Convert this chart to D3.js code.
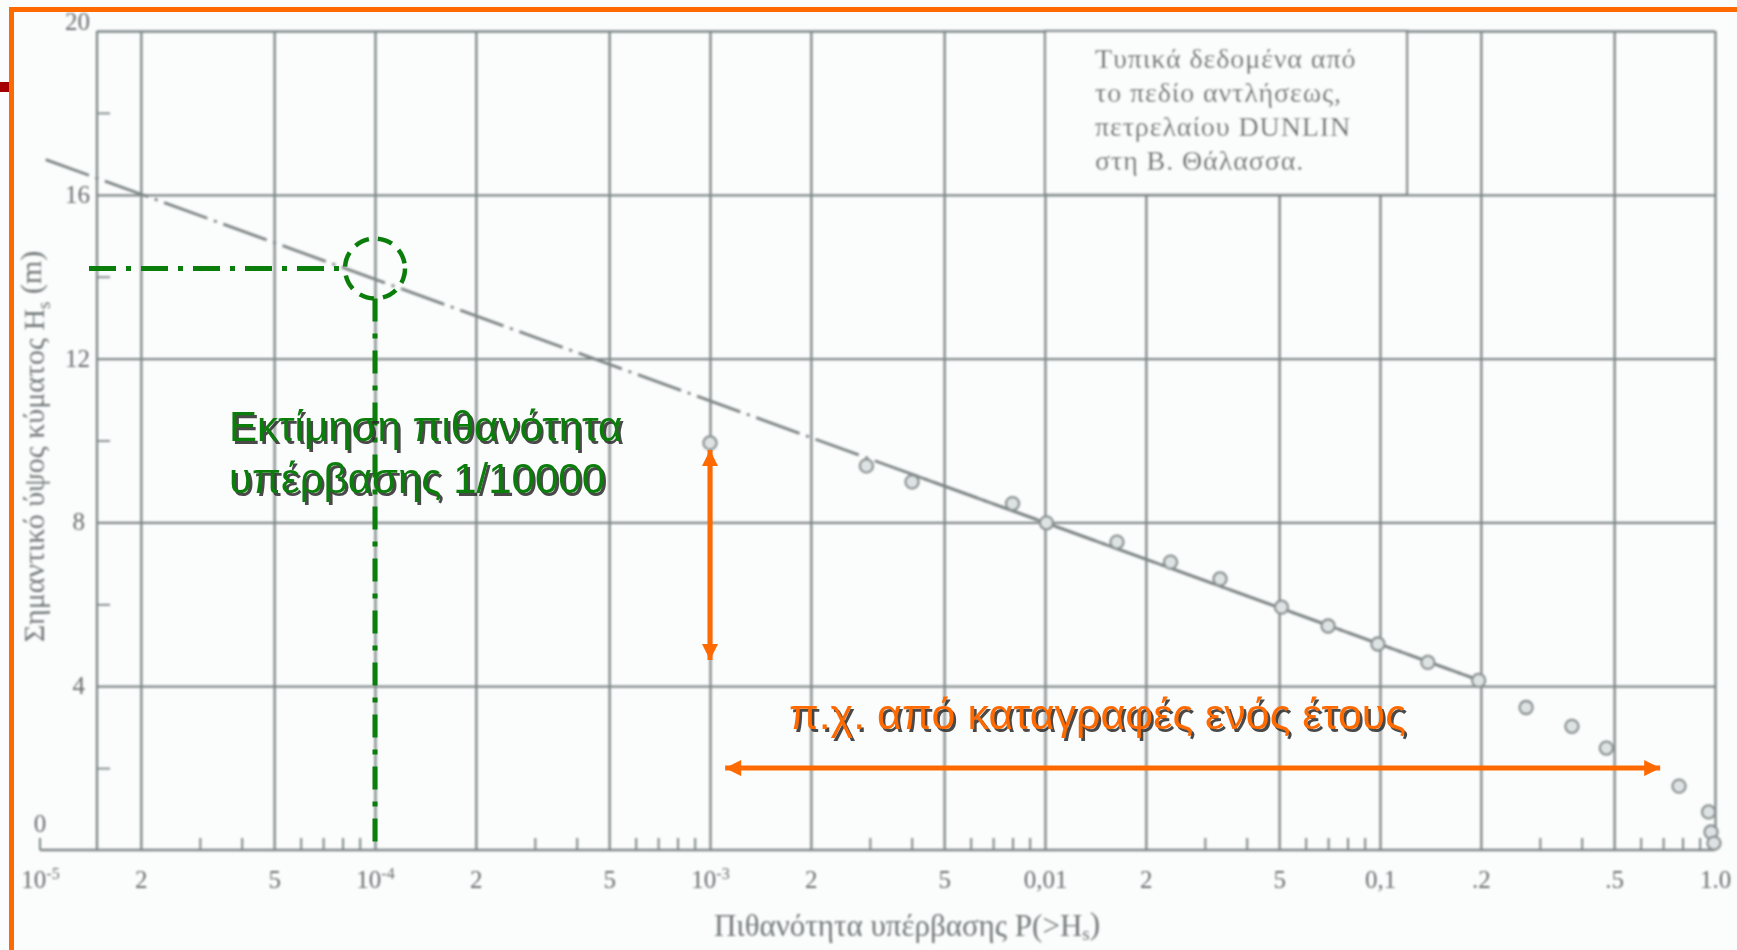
<!DOCTYPE html>
<html>
<head>
<meta charset="utf-8">
<script src="https://cdn.jsdelivr.net/npm/d3@7"></script>
<style>
  html, body { margin: 0; padding: 0; background: #fbfcfc; }
  svg { display: block; }
</style>
</head>
<body>
<svg id="chart" width="1737" height="950"></svg>
<script>
// Exceedance probability of significant wave height, DUNLIN field (North Sea)
const obsP = [1.0e-3, 2.93e-3, 4.01e-3, 8.0e-3, 0.0101, 0.0164, 0.0237, 0.0333, 0.0508, 0.070,
              0.0986, 0.139, 0.197, 0.273, 0.374, 0.474, 0.781, 0.957, 0.973, 0.993];
const obsH = [9.94, 9.38, 8.99, 8.46, 7.99, 7.52, 7.03, 6.62, 5.93, 5.47,
              5.03, 4.58, 4.14, 3.48, 3.02, 2.49, 1.56, 0.93, 0.44, 0.17];

// fitted straight line on the probability paper
const fitP = [1.04e-5, 0.2];
const fitH = [16.86, 4.13];

// 1/10000 estimate
const estP = 1e-4;
const estH = 14.2;

// one-year record span
const spanVertP = 1e-3, spanVertH = [9.77, 4.64];
const spanHorizH = 2.0, spanHorizP = [1.11e-3, 0.686];

const gridP = [2e-5, 5e-5, 1e-4, 2e-4, 5e-4, 1e-3, 2e-3, 5e-3, 0.01, 0.02, 0.05, 0.1, 0.2, 0.5, 1];
const minorP = [];
[1e-5, 1e-4, 1e-3, 1e-2, 1e-1].forEach(d => [3, 4, 6, 7, 8, 9].forEach(m => minorP.push(d * m)));
const labelP = [1e-5, 2e-5, 5e-5, 1e-4, 2e-4, 5e-4, 1e-3, 2e-3, 5e-3, 0.01, 0.02, 0.05, 0.1, 0.2, 0.5, 1];
const labelText = ["10|-5", "2", "5", "10|-4", "2", "5", "10|-3", "2", "5", "0,01", "2", "5", "0,1", ".2", ".5", "1.0"];
const gridH = [4, 8, 12, 16, 20];
const minorH = [2, 6, 10, 14, 18];
const labelH = [0, 4, 8, 12, 16, 20];

const noteLines = ["Τυπικά δεδομένα από", "το πεδίο αντλήσεως,", "πετρελαίου DUNLIN", "στη Β. Θάλασσα."];

const svg = d3.select("#chart");
const W = 1737, H = 950;

const x = d3.scaleLog().domain([1e-5, 1]).range([40, 1715]);
const y = d3.scaleLinear().domain([0, 20]).range([850, 31]);
const frameLeft = x(1e-5) + 57;

const defs = svg.append("defs");
defs.append("filter").attr("id", "soft").attr("x", "-5%").attr("y", "-5%").attr("width", "110%").attr("height", "110%")
  .append("feGaussianBlur").attr("stdDeviation", 0.9);
defs.append("clipPath").attr("id", "solidPart")
  .append("rect").attr("x", x(4e-3)).attr("y", 0).attr("width", W).attr("height", H);

function arrowMarker(id, color) {
  defs.append("marker").attr("id", id)
    .attr("viewBox", "0 0 10 10").attr("refX", 10).attr("refY", 5)
    .attr("markerUnits", "userSpaceOnUse").attr("markerWidth", 17).attr("markerHeight", 16)
    .attr("orient", "auto-start-reverse")
    .append("path").attr("d", "M0,0 L10,5 L0,10 Z").attr("fill", color);
}
arrowMarker("arrOrange", "#ff6a00");

svg.append("rect").attr("width", W).attr("height", H).attr("fill", "#fbfcfc");

const scan = svg.append("g").attr("filter", "url(#soft)");
const gridColor = "#7f8787";
const inkColor = "#6a6f6f";
const serif = "'Liberation Serif', 'DejaVu Serif', serif";

// horizontal grid lines
scan.append("g")
  .call(d3.axisLeft(y).tickValues(gridH).tickSize(-(x(1) - frameLeft)).tickFormat(""))
  .attr("transform", `translate(${frameLeft},0)`)
  .call(g => g.select(".domain").remove())
  .call(g => g.selectAll("line").attr("stroke", gridColor).attr("stroke-width", 2.3));

// vertical grid lines
scan.append("g").attr("transform", `translate(0,${y(0)})`)
  .call(d3.axisBottom(x).tickValues(gridP).tickSize(-(y(0) - y(20))).tickFormat(""))
  .call(g => g.select(".domain").remove())
  .call(g => g.selectAll("line").attr("stroke", gridColor).attr("stroke-width", 2.3));

// minor probability ticks
scan.append("g").attr("transform", `translate(0,${y(0)})`)
  .call(d3.axisBottom(x).tickValues(minorP).tickSize(-12).tickFormat(""))
  .call(g => g.select(".domain").remove())
  .call(g => g.selectAll("line").attr("stroke", gridColor).attr("stroke-width", 2));

// baseline, frame edge and origin tick
scan.append("line").attr("x1", x(1e-5)).attr("x2", x(1)).attr("y1", y(0)).attr("y2", y(0))
  .attr("stroke", gridColor).attr("stroke-width", 2.5);
scan.append("line").attr("x1", frameLeft).attr("x2", frameLeft).attr("y1", y(20)).attr("y2", y(0))
  .attr("stroke", gridColor).attr("stroke-width", 2.3);
scan.append("line").attr("x1", x(1e-5)).attr("x2", x(1e-5)).attr("y1", y(0)).attr("y2", y(0) - 12)
  .attr("stroke", gridColor).attr("stroke-width", 2);

// minor height ticks on the frame edge
scan.append("g").attr("transform", `translate(${frameLeft},0)`)
  .call(d3.axisRight(y).tickValues(minorH).tickSize(13).tickFormat(""))
  .call(g => g.select(".domain").remove())
  .call(g => g.selectAll("line").attr("stroke", gridColor).attr("stroke-width", 1.8));

// note box in the upper grid
const boxX0 = x(0.01), boxX1 = x(0.1) + 27;
scan.append("rect").attr("x", boxX0).attr("y", y(20)).attr("width", boxX1 - boxX0).attr("height", y(16) - y(20))
  .attr("fill", "#fbfcfc").attr("stroke", gridColor).attr("stroke-width", 2.3);
scan.append("text")
  .attr("font-family", serif).attr("font-size", 28).attr("letter-spacing", 0.9)
  .attr("fill", "#666b6b")
  .selectAll("tspan").data(noteLines).join("tspan")
  .attr("x", boxX0 + 50).attr("y", (d, i) => y(20) + 37 + i * 34)
  .text(d => d);

// probability labels
const xLab = scan.append("g").attr("transform", `translate(0,${y(0)})`)
  .call(d3.axisBottom(x).tickValues(labelP).tickSize(0).tickPadding(20).tickFormat((d, i) => labelText[i]))
  .call(g => g.select(".domain").remove());
xLab.selectAll("text")
  .attr("font-family", serif).attr("font-size", 25)
  .attr("fill", inkColor)
  .each(function () {
    const t = d3.select(this);
    const parts = t.text().split("|");
    if (parts.length === 2) {
      t.text(null);
      t.append("tspan").text(parts[0]);
      t.append("tspan").attr("dy", "-0.55em").attr("font-size", 16).text(parts[1]);
    }
  });

// height labels
scan.append("g").selectAll("text").data(labelH).join("text")
  .attr("font-family", serif).attr("font-size", 25)
  .attr("fill", inkColor)
  .attr("text-anchor", d => d === 0 ? "middle" : "end")
  .attr("x", d => d === 0 ? x(1e-5) : (d >= 10 ? frameLeft - 7 : frameLeft - 12))
  .attr("y", d => d === 0 ? y(0) - 18 : d === 20 ? y(20) - 1 : y(d) + 8)
  .text(d => d);

// axis titles
const yTitle = scan.append("text")
  .attr("transform", `translate(44,${(y(0) + y(20)) / 2 + 6}) rotate(-90)`)
  .attr("text-anchor", "middle")
  .attr("font-family", serif).attr("font-size", 30)
  .attr("fill", "#737979");
yTitle.append("tspan").text("Σημαντικό ύψος κύματος H");
yTitle.append("tspan").attr("font-size", 19).attr("dy", "0.3em").text("s");
yTitle.append("tspan").attr("dy", "-0.3em").text(" (m)");

const xTitle = scan.append("text")
  .attr("x", 907).attr("y", 936)
  .attr("text-anchor", "middle")
  .attr("font-family", serif).attr("font-size", 31)
  .attr("fill", "#737979");
xTitle.append("tspan").text("Πιθανότητα υπέρβασης P(>H");
xTitle.append("tspan").attr("font-size", 19).attr("dy", "0.2em").text("s");
xTitle.append("tspan").attr("dy", "-0.2em").text(")");

// fitted line
const fitData = fitP.map((p, i) => [p, fitH[i]]);
const fitLine = d3.line().x(d => x(d[0])).y(d => y(d[1]));
scan.append("path").datum(fitData).attr("d", fitLine)
  .attr("fill", "none").attr("stroke", "#7e8585").attr("stroke-width", 2.8)
  .attr("stroke-dasharray", "46,7,3,7");
scan.append("path").datum(fitData).attr("d", fitLine).attr("clip-path", "url(#solidPart)")
  .attr("fill", "none").attr("stroke", "#7e8585").attr("stroke-width", 2.8);

// observed points
const obs = obsP.map((p, i) => ({ p, h: obsH[i] }));
scan.append("g").selectAll("circle").data(obs).join("circle")
  .attr("cx", d => x(d.p)).attr("cy", d => y(d.h)).attr("r", 6.5)
  .attr("fill", "#dde2e2").attr("stroke", "#8a9191").attr("stroke-width", 2.3);

// ---- annotations ----
const green = "#0a7d0a";
const ann = svg.append("g");
const ex = x(estP), ey = y(estH), er = 30;
ann.append("line").attr("x1", frameLeft - 8).attr("x2", ex - er).attr("y1", ey).attr("y2", ey)
  .attr("stroke", green).attr("stroke-width", 5).attr("stroke-dasharray", "27,10,5,10");
ann.append("line").attr("x1", ex).attr("x2", ex).attr("y1", ey + er).attr("y2", y(0))
  .attr("stroke", green).attr("stroke-width", 5).attr("stroke-dasharray", "23,12,5,12");
ann.append("circle").attr("cx", ex).attr("cy", ey).attr("r", er)
  .attr("fill", "none").attr("stroke", green).attr("stroke-width", 4.5).attr("stroke-dasharray", "15,9");

function shadowText(g, txtLines, x0, y0, lh, size, color) {
  [["#2a2a2a", 2.5], [color, 0]].forEach(([c, o]) => {
    g.append("text")
      .attr("font-family", "'Liberation Sans', Arial, sans-serif").attr("font-size", size)
      .attr("fill", c).attr("opacity", o ? 0.85 : 1)
      .selectAll("tspan").data(txtLines).join("tspan")
      .attr("x", x0 + o).attr("y", (d, i) => y0 + i * lh + o).text(d => d);
  });
}
shadowText(ann, ["Εκτίμηση πιθανότητα", "υπέρβασης 1/10000"], 229, 441, 52, 42, green);

const orange = "#ff6a00";
ann.append("line")
  .attr("x1", x(spanVertP)).attr("x2", x(spanVertP))
  .attr("y1", y(spanVertH[0])).attr("y2", y(spanVertH[1]))
  .attr("stroke", orange).attr("stroke-width", 5)
  .attr("marker-start", "url(#arrOrange)").attr("marker-end", "url(#arrOrange)");
ann.append("line")
  .attr("x1", x(spanHorizP[0])).attr("x2", x(spanHorizP[1]))
  .attr("y1", y(spanHorizH)).attr("y2", y(spanHorizH))
  .attr("stroke", orange).attr("stroke-width", 5)
  .attr("marker-start", "url(#arrOrange)").attr("marker-end", "url(#arrOrange)");
shadowText(ann, ["π.χ. από καταγραφές ενός έτους"], 789, 729, 0, 43, orange);

// slide frame
svg.append("rect").attr("x", 9).attr("y", 7).attr("width", W - 9).attr("height", 5).attr("fill", orange);
svg.append("rect").attr("x", 9).attr("y", 7).attr("width", 5).attr("height", H - 7).attr("fill", orange);
svg.append("rect").attr("x", 0).attr("y", 82).attr("width", 9).attr("height", 10).attr("fill", "#a50000");
</script>
</body>
</html>
